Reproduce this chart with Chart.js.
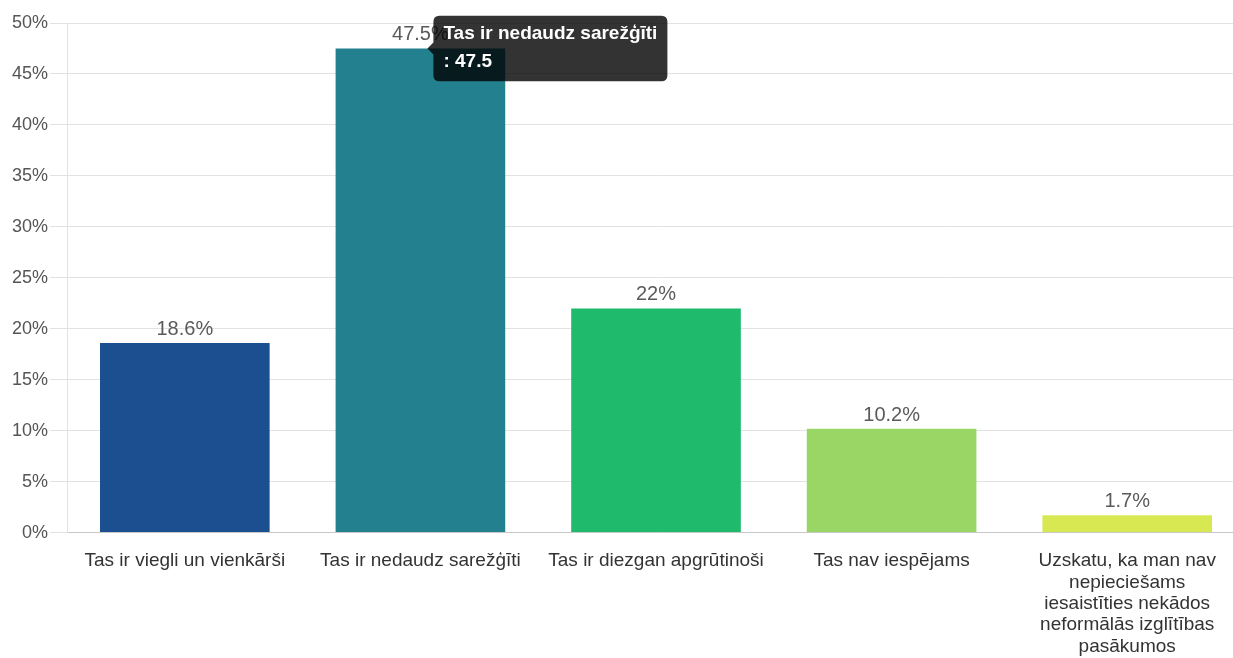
<!DOCTYPE html>
<html lang="lv">
<head>
<meta charset="UTF-8">
<title>Aptauja</title>
<script src="https://cdn.jsdelivr.net/npm/chart.js"></script>
<style>
  html, body { margin: 0; padding: 0; background: #fff; overflow: hidden; }
  #wrap { width: 1245px; height: 667px; }
</style>
</head>
<body>
<div id="wrap"><canvas id="chart"></canvas></div>
<script>
// dati
const categories = [
  'Tas ir viegli un vienkārši',
  'Tas ir nedaudz sarežģīti',
  'Tas ir diezgan apgrūtinoši',
  'Tas nav iespējams',
  ['Uzskatu, ka man nav', 'nepieciešams', 'iesaistīties nekādos', 'neformālās izglītības', 'pasākumos']
];
const tooltipTitles = [
  'Tas ir viegli un vienkārši',
  'Tas ir nedaudz sarežģīti',
  'Tas ir diezgan apgrūtinoši',
  'Tas nav iespējams',
  'Uzskatu, ka man nav nepieciešams iesaistīties nekādos neformālās izglītības pasākumos'
];
const values = [18.6, 47.5, 22, 10.2, 1.7];
const barColors = ['#1b4f8f', '#23808f', '#1fba6c', '#9ad665', '#d8e852'];
const yTicks = [0, 5, 10, 15, 20, 25, 30, 35, 40, 45, 50];

const font = "'Liberation Sans', Arial, sans-serif";

// vērtības virs stabiņiem
const valueLabels = {
  id: 'valueLabels',
  afterDatasetsDraw(chart) {
    const ctx = chart.ctx;
    const meta = chart.getDatasetMeta(0);
    ctx.save();
    ctx.font = '20px ' + font;
    ctx.fillStyle = '#5a5a5a';
    ctx.textAlign = 'center';
    ctx.textBaseline = 'alphabetic';
    meta.data.forEach((bar, i) => {
      ctx.fillText(values[i] + '%', bar.x, bar.y - 8);
    });
    ctx.restore();
  }
};

const chart = new Chart(document.getElementById('chart'), {
  type: 'bar',
  data: {
    labels: categories,
    datasets: [{
      label: '',
      data: values,
      backgroundColor: barColors,
      hoverBackgroundColor: barColors,
      borderWidth: 0,
      categoryPercentage: 0.8,
      barPercentage: 0.9
    }]
  },
  options: {
    responsive: true,
    maintainAspectRatio: false,
    animation: false,
    layout: { padding: { top: 23, left: 10, right: 0, bottom: 0 } },
    plugins: {
      legend: { display: false },
      tooltip: {
        enabled: true,
        xAlign: 'left',
        yAlign: 'center',
        displayColors: false,
        backgroundColor: 'rgba(0,0,0,0.8)',
        titleFont: { family: font, size: 19, weight: 'bold' },
        bodyFont: { family: font, size: 19, weight: 'bold' },
        titleMarginBottom: 5,
        padding: { top: 7, bottom: 8, left: 10, right: 10 },
        caretSize: 6,
        caretPadding: 7,
        cornerRadius: 6,
        callbacks: {
          title: items => tooltipTitles[items[0].dataIndex],
          label: item => ': ' + item.raw
        }
      }
    },
    scales: {
      x: {
        grid: { display: false },
        border: { color: '#c8c8c8' },
        ticks: {
          color: '#333',
          font: { family: font, size: 19, lineHeight: 1.12 },
          maxRotation: 0,
          autoSkip: false,
          padding: 10
        }
      },
      y: {
        min: 0,
        max: 50,
        afterBuildTicks: axis => { axis.ticks = yTicks.map(v => ({ value: v })); },
        grid: { color: '#e2e2e2', tickLength: 17 },
        border: { color: '#e2e2e2' },
        ticks: {
          color: '#555',
          font: { family: font, size: 18 },
          padding: 2,
          callback: v => v + '%'
        }
      }
    }
  },
  plugins: [valueLabels]
});

// rāda rīka padomu otrajam stabiņam
const el = chart.getDatasetMeta(0).data[1];
chart.tooltip.setActiveElements([{ datasetIndex: 0, index: 1 }], { x: el.x, y: el.y });
chart.update();
</script>
</body>
</html>
